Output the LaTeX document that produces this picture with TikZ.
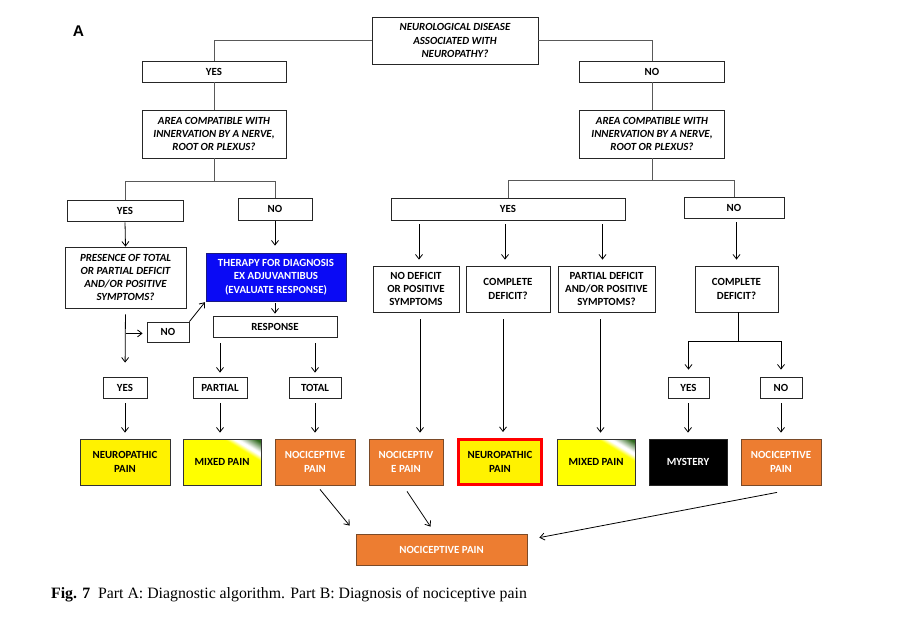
\documentclass[tikz,border=0pt]{standalone}
\usepackage{fontspec}
\setmainfont{Carlito}
\newfontfamily\capfont{Liberation Serif}
\newfontfamily\labfont{Liberation Sans}
\usetikzlibrary{arrows.meta,calc}
\definecolor{orng}{HTML}{ED7D31}
\definecolor{orngb}{HTML}{7A4A28}
\definecolor{blu}{HTML}{0A0AF5}
\definecolor{blub}{HTML}{1A1A80}
\definecolor{dgreen}{HTML}{2F6A1E}
\pgfdeclareverticalshading{mixsh}{100bp}{color(0bp)=(yellow); color(68bp)=(yellow); color(72bp)=(white); color(74bp)=(white); color(82bp)=(dgreen); color(100bp)=(dgreen)}
\begin{document}
\begin{tikzpicture}[x=1pt,y=-1pt,
  box/.style={draw=black!85, line width=0.8pt, fill=white, align=center, inner sep=0pt,
    font=\bfseries\fontsize{10.9}{13.3}\selectfont},
  qbox/.style={box, font=\bfseries\itshape\fontsize{10.9}{13.3}\selectfont},
  ybox/.style={box, fill=yellow, draw=black!80},
  obox/.style={box, fill=orng, draw=orngb, text=white},
  ln/.style={line width=0.8pt, black!65},
  arr/.style={line width=0.8pt, black, -{Straight Barb[length=4.5pt,width=7pt]}},
  mixcorner/.style={path picture={
    \shade[shading=mixsh, shading angle=-31]
      (path picture bounding box.south west) rectangle (path picture bounding box.north east);}}
]
\useasboundingbox (0,0) rectangle (911,632);
\fill[white] (0,0) rectangle (911,632);

\node[font=\labfont\bfseries\fontsize{15.5}{18}\selectfont] (lab) at (78.5,31.5) {A};

% level 1
\node[qbox, minimum width=166pt, minimum height=47pt] (top) at (455,40.5) {NEUROLOGICAL DISEASE\\ASSOCIATED WITH\\NEUROPATHY?};
\node[box, minimum width=144pt, minimum height=21pt] (yes1) at (214,71.5) {YES};
\node[box, minimum width=145pt, minimum height=21pt] (no1) at (652,71.5) {NO};
\node[qbox, minimum width=144pt, minimum height=48pt] (area1) at (214,134) {AREA COMPATIBLE WITH\\INNERVATION BY A NERVE,\\ROOT OR PLEXUS?};
\node[qbox, minimum width=145pt, minimum height=48pt] (area2) at (652,134) {AREA COMPATIBLE WITH\\INNERVATION BY A NERVE,\\ROOT OR PLEXUS?};

% level 2
\node[box, minimum width=116pt, minimum height=21pt] (yes2) at (125,210.5) {YES};
\node[box, minimum width=74pt, minimum height=22pt] (no2) at (275,209) {NO};
\node[box, minimum width=234pt, minimum height=22pt] (yes2r) at (508,209) {YES};
\node[box, minimum width=100pt, minimum height=21pt] (no2r) at (734,207.5) {NO};

% level 3 left
\node[qbox, minimum width=121pt, minimum height=61pt] (pres) at (125.5,277.5) {PRESENCE OF TOTAL\\OR PARTIAL DEFICIT\\AND/OR POSITIVE\\SYMPTOMS?};
\node[box, fill=blu, draw=blub, text=white, minimum width=140pt, minimum height=48pt] (ther) at (276,277) {THERAPY FOR DIAGNOSIS\\EX ADJUVANTIBUS\\(EVALUATE RESPONSE)};
\node[box, minimum width=124pt, minimum height=21pt] (resp) at (275,326.5) {RESPONSE};
\node[box, minimum width=42pt, minimum height=20pt] (nosm) at (168,332) {NO};
\node[box, minimum width=44pt, minimum height=21pt] (yes3) at (125,387.5) {YES};
\node[box, minimum width=54pt, minimum height=21pt] (part) at (220,387.5) {PARTIAL};
\node[box, minimum width=52pt, minimum height=21pt] (tot) at (315,387.5) {TOTAL};

% level 3 right
\node[box, minimum width=86pt, minimum height=46pt] (nod) at (416,289) {NO DEFICIT\\OR POSITIVE\\SYMPTOMS};
\node[box, minimum width=84pt, minimum height=46pt] (cd1) at (508,289) {COMPLETE\\DEFICIT?};
\node[box, minimum width=97pt, minimum height=46pt] (pd) at (606.5,289) {PARTIAL DEFICIT\\AND/OR POSITIVE\\SYMPTOMS?};
\node[box, minimum width=83pt, minimum height=46pt] (cd2) at (736.5,289) {COMPLETE\\DEFICIT?};
\node[box, minimum width=41pt, minimum height=21pt] (yes4) at (688.5,387.5) {YES};
\node[box, minimum width=42pt, minimum height=21pt] (no4) at (781,387.5) {NO};

% outcomes
\node[ybox, minimum width=90pt, minimum height=46pt] (neu1) at (125,462) {NEUROPATHIC\\PAIN};
\node[ybox, mixcorner, minimum width=78pt, minimum height=46pt] (mix1) at (222,462) {MIXED PAIN};
\node[obox, minimum width=80pt, minimum height=46pt] (noc1) at (315,462) {NOCICEPTIVE\\PAIN};
\node[obox, minimum width=74pt, minimum height=46pt] (noc2) at (406,462) {NOCICEPTIV\\E PAIN};
\node[ybox, draw=red, line width=3pt, minimum width=83pt, minimum height=45pt] (neu2) at (500,462) {NEUROPATHIC\\PAIN};
\node[ybox, mixcorner, minimum width=78pt, minimum height=46pt] (mix2) at (596,462) {MIXED PAIN};
\node[box, fill=black, text=white, minimum width=78pt, minimum height=46pt] (mys) at (688,462) {MYSTERY};
\node[obox, minimum width=80pt, minimum height=46pt] (noc3) at (781,462) {NOCICEPTIVE\\PAIN};
\node[obox, minimum width=171pt, minimum height=31pt] (bot) at (441.5,549.5) {NOCICEPTIVE PAIN};

% caption
\node[anchor=base west, inner sep=0pt, font=\capfont\fontsize{15.8}{18}\selectfont] (cap) at (51,598)
  {\textbf{Fig. 7}\enspace Part A: Diagnostic algorithm. Part B: Diagnosis of nociceptive pain};

% connectors top
\draw[ln] (top.west) -| (yes1.north);
\draw[ln] (top.east) -| (no1.north);
\draw[ln] (yes1.south) -- (area1.north);
\draw[ln] (no1.south) -- (area2.north);
\coordinate (j1) at ($(area1.south)+(0,23)$);
\coordinate (j2) at ($(area2.south)+(0,22)$);
\draw[ln] (area1.south) -- (j1);
\draw[ln] (yes2.north) |- (j1) -| (no2.north);
\draw[ln] (area2.south) -- (j2);
\draw[ln] (yes2r.north) |- (j2) -| (no2r.north);

% left branch
\draw[arr, shorten <=1pt] (yes2.south) -- (pres.north);
\draw[arr, shorten <=1pt, shorten >=7pt] (no2.south) -- (no2.south |- ther.north);
\draw[arr, shorten <=6pt, shorten >=14pt] (pres.south) -- (yes3.north);
\coordinate (b1) at ($(pres.south)+(0,25)$);
\draw[arr, shorten >=4pt] (b1) -- (b1 -| nosm.west);
\draw[arr, shorten >=1pt] (nosm.north east) -- (ther.south west);
\draw[arr, shorten <=2pt, shorten >=2pt] (ther.south -| resp.north) -- (resp.north);
\draw[arr, shorten <=6pt, shorten >=4pt] (resp.south -| part.north) -- (part.north);
\draw[arr, shorten <=6pt, shorten >=4pt] (resp.south -| tot.north) -- (tot.north);
\draw[arr, shorten <=5pt, shorten >=6pt] (yes3.south) -- (neu1.north);
\draw[arr, shorten <=5pt, shorten >=6pt] (part.south) -- (part.south |- mix1.north);
\draw[arr, shorten <=5pt, shorten >=6pt] (tot.south) -- (noc1.north);

% right branch
\draw[arr, shorten <=4pt, shorten >=6pt] ([xshift=3pt]yes2r.south -| nod.north) -- ([xshift=3pt]nod.north);
\draw[arr, shorten <=4pt, shorten >=6pt] ([xshift=-3pt]yes2r.south -| cd1.north) -- ([xshift=-3pt]cd1.north);
\draw[arr, shorten <=4pt, shorten >=6pt] ([xshift=-4pt]yes2r.south -| pd.north) -- ([xshift=-4pt]pd.north);
\draw[arr, shorten <=4pt, shorten >=6pt] (no2r.south -| cd2.north) -- (cd2.north);
\coordinate (s1) at ([xshift=4pt]nod.south);
\coordinate (s2) at ([xshift=-5pt]cd1.south);
\coordinate (s3) at ([xshift=-6pt]pd.south);
\draw[arr, shorten <=7pt, shorten >=6pt] (s1) -- (s1 |- noc2.north);
\draw[arr, shorten <=7pt, shorten >=6pt] (s2) -- (s2 |- neu2.north);
\draw[arr, shorten <=7pt, shorten >=6pt] (s3) -- (s3 |- mix2.north);
\coordinate (j3) at ($(cd2.south)+(2,29)$);
\draw[ln, black] (cd2.south -| j3) -- (j3);
\draw[arr, shorten >=7pt] (j3) -| (yes4.north);
\draw[arr, shorten >=7pt] (j3) -| (no4.north);
\draw[arr, shorten <=5pt, shorten >=6pt] (yes4.south -| mys.north) -- (mys.north);
\draw[arr, shorten <=5pt, shorten >=6pt] (no4.south) -- (noc3.north);

% to bottom
\draw[arr] ($(noc1.south)+(5,4)$) -- ($(bot.north west)+(-6,-8)$);
\draw[arr] ($(noc2.south)+(1,6)$) -- ($(bot.north)+(-11,-7)$);
\draw[arr] ($(noc3.south)+(-4,7)$) -- ($(bot.north east)+(12,4)$);
\end{tikzpicture}
\end{document}
